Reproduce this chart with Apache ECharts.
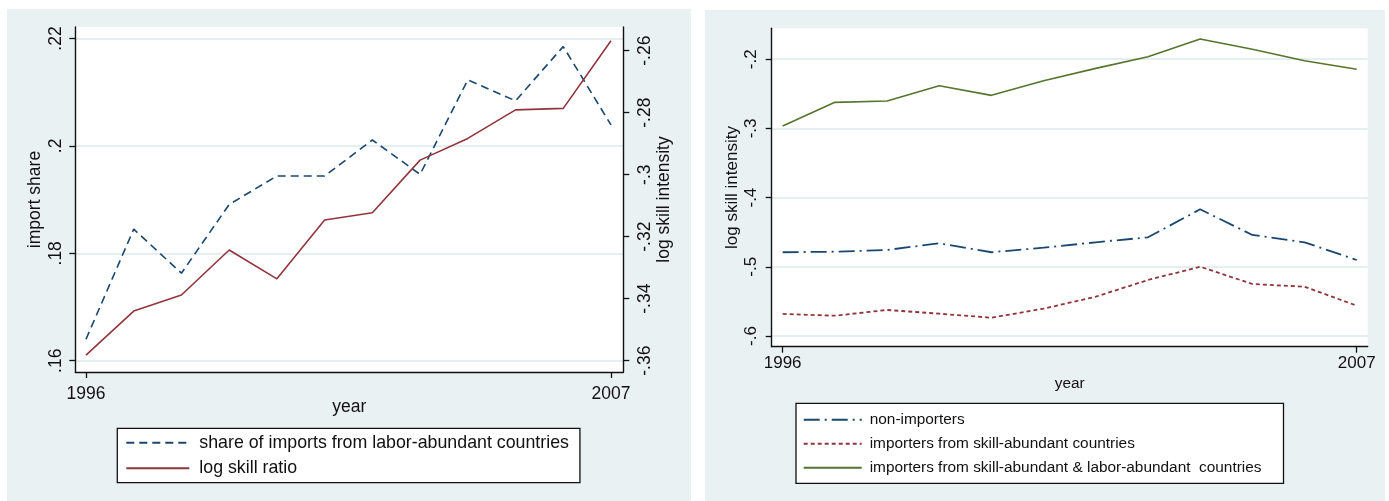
<!DOCTYPE html>
<html>
<head>
<meta charset="utf-8">
<script src="https://cdn.jsdelivr.net/npm/echarts@6/dist/echarts.min.js"></script>
<style>
html,body{margin:0;padding:0;background:#fff;}
#main{width:1389px;height:501px;}
</style>
</head>
<body>
<div id="main"></div>
<script>
// ---- data ----
const years = [1996,1997,1998,1999,2000,2001,2002,2003,2004,2005,2006,2007];
// left panel
const importShare   = [0.1640,0.1845,0.1763,0.1891,0.1944,0.1944,0.2011,0.1947,0.2123,0.2084,0.2185,0.2039];
const logSkillRatio = [-0.3582,-0.3440,-0.3388,-0.3243,-0.3336,-0.3146,-0.3123,-0.2953,-0.2883,-0.2791,-0.2786,-0.2568];
// right panel
const nonImporters   = [-0.4790,-0.4782,-0.4757,-0.4660,-0.4790,-0.4724,-0.4646,-0.4574,-0.4169,-0.4540,-0.4646,-0.4902];
const importersSkill = [-0.5682,-0.5707,-0.5624,-0.5678,-0.5736,-0.5605,-0.5432,-0.5191,-0.4999,-0.5249,-0.5288,-0.5562];
const importersBoth  = [-0.2965,-0.2623,-0.2604,-0.2383,-0.2522,-0.2311,-0.2132,-0.1964,-0.1708,-0.1857,-0.2022,-0.2146];
// tick labels
const xTicks = [1996, 2007];
const leftShareTicks = [0.16, 0.18, 0.2, 0.22];
const leftSkillTicks = [-0.36, -0.34, -0.32, -0.3, -0.28, -0.26];
const rightTicks = [-0.6, -0.5, -0.4, -0.3, -0.2];
const names = {
  share: 'share of imports from labor-abundant countries',
  ratio: 'log skill ratio',
  non: 'non-importers',
  skill: 'importers from skill-abundant countries',
  both: 'importers from skill-abundant & labor-abundant  countries'
};

const pairs = arr => years.map((y, i) => [y, arr[i]]);
const fmt = v => (+(+v).toFixed(4)).toString().replace(/^(-?)0\./, '$1.');

const FONT = 'Liberation Sans, Arial, sans-serif';
const TXT = '#111';
const BG = '#eaf1f3';
const GRIDC = '#e5eef1';
const NAVY = '#1A476F', MAROON = '#90353B', GREEN = '#55752F';

const axisLine = {show: true, onZero: false, lineStyle: {color: '#111', width: 1.4}};
const lbl = (size, extra) => Object.assign({color: TXT, fontFamily: FONT, fontSize: size}, extra || {});
const L = 17.5, LL = 17.8, R = 17, RL = 15.4;

const chart = echarts.init(document.getElementById('main'), null, {renderer: 'canvas'});
chart.setOption({
  animation: false,
  backgroundColor: '#fff',
  graphic: [
    {type: 'rect', z: -10, shape: {x: 7, y: 9, width: 684, height: 492}, style: {fill: BG}},
    {type: 'rect', z: -10, shape: {x: 705, y: 10, width: 680, height: 491}, style: {fill: BG}}
  ],
  grid: [
    {left: 75.3, top: 27, width: 548, height: 345, show: true, backgroundColor: '#fff', borderWidth: 0},
    {left: 771.7, top: 28.3, width: 596, height: 318.4, show: true, backgroundColor: '#fff', borderWidth: 0}
  ],
  xAxis: [
    {type: 'value', gridIndex: 0, min: 1995.776, max: 2007.258,
     name: 'year', nameLocation: 'middle', nameGap: 26, nameMoveOverlap: false, nameTextStyle: lbl(L),
     axisLine: axisLine,
     axisTick: {show: true, length: 6, customValues: xTicks, lineStyle: {color: '#111', width: 1.3}},
     axisLabel: lbl(L, {customValues: xTicks, margin: 13, formatter: v => String(v)}),
     splitLine: {show: false}},
    {type: 'value', gridIndex: 1, min: 1995.79, max: 2007.21,
     name: 'year', nameLocation: 'middle', nameGap: 30, nameMoveOverlap: false, nameTextStyle: lbl(RL),
     axisLine: axisLine,
     axisTick: {show: true, length: 6, customValues: xTicks, lineStyle: {color: '#111', width: 1.3}},
     axisLabel: lbl(R, {customValues: xTicks, margin: 8, formatter: v => String(v)}),
     splitLine: {show: false}}
  ],
  yAxis: [
    {type: 'value', gridIndex: 0, position: 'left', min: 0.15790, max: 0.22214,
     name: 'import share', nameLocation: 'middle', nameGap: 31, nameTextStyle: lbl(L),
     axisLine: axisLine,
     axisTick: {show: true, length: 6, customValues: leftShareTicks, lineStyle: {color: '#111', width: 1.3}},
     axisLabel: lbl(L, {customValues: leftShareTicks, rotate: 90, margin: 10, formatter: fmt}),
     splitLine: {show: true, lineStyle: {color: GRIDC, width: 2}}},
    {type: 'value', gridIndex: 0, position: 'right', min: -0.36365, max: -0.25236,
     name: 'log skill intensity', nameLocation: 'middle', nameGap: 25, nameTextStyle: lbl(L),
     axisLine: axisLine,
     axisTick: {show: true, length: 6, customValues: leftSkillTicks, lineStyle: {color: '#111', width: 1.3}},
     axisLabel: lbl(L, {customValues: leftSkillTicks, rotate: 90, margin: 13, formatter: fmt}),
     splitLine: {show: false}},
    {type: 'value', gridIndex: 1, position: 'left', min: -0.6155, max: -0.1553,
     name: 'log skill intensity', nameLocation: 'middle', nameGap: 31, nameTextStyle: lbl(R),
     axisLine: axisLine,
     axisTick: {show: true, length: 6, customValues: rightTicks, lineStyle: {color: '#111', width: 1.3}},
     axisLabel: lbl(R, {customValues: rightTicks, rotate: 90, margin: 12, formatter: fmt}),
     splitLine: {show: true, lineStyle: {color: GRIDC, width: 2}}}
  ],
  legend: [
    {orient: 'vertical', left: 117.3, top: 428.3, data: [names.share, names.ratio],
     backgroundColor: '#fff', borderColor: '#111', borderWidth: 1.3, borderRadius: 0,
     padding: [4.4, 11, 4.4, 8], itemGap: 5.6, itemWidth: 63, itemHeight: 14,
     itemStyle: {opacity: 0}, textStyle: lbl(LL, {lineHeight: 20, padding: [0, 0, 0, 5]}), selectedMode: false},
    {orient: 'vertical', left: 796, top: 403.3, data: [names.non, names.skill, names.both],
     backgroundColor: '#fff', borderColor: '#111', borderWidth: 1.3, borderRadius: 0,
     padding: [6.5, 22, 5.5, 6.7], itemGap: 4, itemWidth: 58, itemHeight: 14,
     itemStyle: {opacity: 0}, textStyle: lbl(RL, {lineHeight: 20, padding: [0, 0, 0, 3]}), selectedMode: false}
  ],
  series: [
    {name: names.share, type: 'line', xAxisIndex: 0, yAxisIndex: 0, data: pairs(importShare),
     symbol: 'none', lineStyle: {color: NAVY, width: 1.6, type: [8, 5]}, itemStyle: {color: NAVY}},
    {name: names.ratio, type: 'line', xAxisIndex: 0, yAxisIndex: 1, data: pairs(logSkillRatio),
     symbol: 'none', lineStyle: {color: MAROON, width: 1.6, type: 'solid'}, itemStyle: {color: MAROON}},
    {name: names.non, type: 'line', xAxisIndex: 1, yAxisIndex: 2, data: pairs(nonImporters),
     symbol: 'none', lineStyle: {color: NAVY, width: 1.8, type: [16, 5, 2, 5]}, itemStyle: {color: NAVY}},
    {name: names.skill, type: 'line', xAxisIndex: 1, yAxisIndex: 2, data: pairs(importersSkill),
     symbol: 'none', lineStyle: {color: MAROON, width: 1.8, type: [4, 3]}, itemStyle: {color: MAROON}},
    {name: names.both, type: 'line', xAxisIndex: 1, yAxisIndex: 2, data: pairs(importersBoth),
     symbol: 'none', lineStyle: {color: GREEN, width: 1.6, type: 'solid'}, itemStyle: {color: GREEN}}
  ]
});
</script>
</body>
</html>
